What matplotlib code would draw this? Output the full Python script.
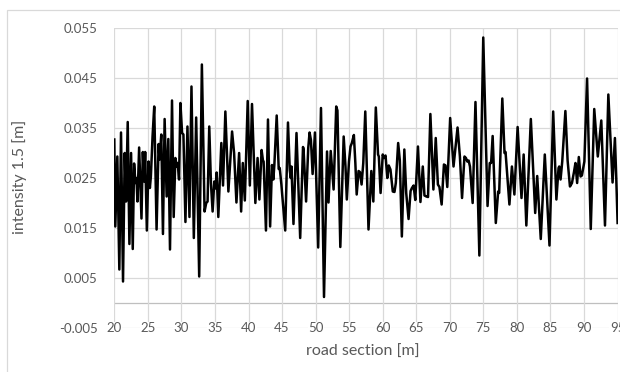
import numpy as np
import matplotlib
matplotlib.use("Agg")
import matplotlib.pyplot as plt
from matplotlib.patches import Rectangle

plt.rcParams['font.family'] = ['Lato', 'DejaVu Sans']

# road section [m] / intensity 1.5 [m] (turning points)
road_m = [
    20.00, 20.15, 20.45, 20.75, 21.00, 21.30, 21.55, 21.75, 22.00, 22.25,
    22.50, 22.75, 22.95, 23.15, 23.30, 23.45, 23.70, 24.05, 24.25, 24.45,
    24.60, 24.85, 25.10, 25.30, 25.45, 25.70, 25.95, 26.30, 26.60, 26.75,
    27.00, 27.25, 27.50, 27.80, 28.05, 28.30, 28.60, 28.85, 29.10, 29.30,
    29.45, 29.65, 29.85, 30.10, 30.30, 30.60, 30.90, 31.20, 31.50, 31.85,
    32.20, 32.65, 33.05, 33.45, 33.70, 33.90, 34.15, 34.40, 34.65, 34.90,
    35.10, 35.25, 35.50, 35.95, 36.20, 36.55, 37.00, 37.55, 37.85, 38.20,
    38.60, 38.90, 39.15, 39.45, 39.88, 40.20, 40.52, 41.02, 41.35, 41.62,
    41.95, 42.15, 42.25, 42.60, 42.90, 43.22, 43.50, 43.70, 43.85, 44.20,
    44.50, 44.65, 44.90, 45.00, 45.47, 45.88, 46.15, 46.30, 46.40, 46.70,
    47.15, 47.70, 48.12, 48.20, 48.58, 48.90, 49.10, 49.30, 49.55, 49.90,
    50.38, 50.80, 51.25, 51.70, 51.92, 52.25, 52.68, 53.07, 53.25, 53.68,
    54.18, 54.45, 54.65, 54.97, 55.20, 55.40, 55.70, 55.92, 56.12, 56.40,
    56.60, 56.85, 57.10, 57.40, 57.88, 58.30, 58.60, 58.97, 59.30, 59.42,
    59.68, 60.00, 60.20, 60.42, 60.68, 60.90, 61.15, 61.50, 61.75, 61.95,
    62.30, 62.55, 62.85, 63.22, 63.50, 63.85, 64.15, 64.35, 64.60, 64.85,
    65.25, 65.62, 65.97, 66.22, 66.50, 66.75, 67.10, 67.55, 67.90, 68.22,
    68.45, 68.78, 69.12, 69.35, 69.62, 70.05, 70.55, 71.15, 71.50, 71.82,
    72.18, 72.40, 72.60, 72.80, 73.00, 73.40, 73.82, 74.40, 74.98, 75.62,
    75.95, 76.15, 76.38, 76.85, 77.20, 77.35, 77.82, 78.15, 78.30, 78.88,
    79.25, 79.62, 80.10, 80.68, 81.00, 81.40, 82.07, 82.72, 83.02, 83.55,
    84.15, 84.85, 85.40, 85.88, 86.20, 86.30, 86.50, 86.75, 87.22, 87.55,
    87.90, 88.20, 88.50, 88.72, 88.97, 89.22, 89.48, 89.68, 90.05, 90.45,
    91.00, 91.52, 92.05, 92.57, 93.12, 93.62, 94.25, 94.60, 94.80, 95.00,
]
intensity = [
    0.0327, 0.0153, 0.0293, 0.0067, 0.0341, 0.0043, 0.0300, 0.0203, 0.0362, 0.0118,
    0.0300, 0.0108, 0.0279, 0.0240, 0.0250, 0.0203, 0.0311, 0.0169, 0.0302, 0.0243,
    0.0302, 0.0145, 0.0283, 0.0230, 0.0253, 0.0333, 0.0393, 0.0147, 0.0318, 0.0287,
    0.0337, 0.0138, 0.0368, 0.0213, 0.0328, 0.0107, 0.0405, 0.0172, 0.0290, 0.0273,
    0.0280, 0.0247, 0.0400, 0.0340, 0.0337, 0.0162, 0.0353, 0.0172, 0.0433, 0.0130,
    0.0371, 0.0053, 0.0477, 0.0183, 0.0200, 0.0203, 0.0353, 0.0240, 0.0183, 0.0243,
    0.0229, 0.0261, 0.0172, 0.0320, 0.0235, 0.0383, 0.0223, 0.0343, 0.0300, 0.0201,
    0.0300, 0.0183, 0.0280, 0.0205, 0.0404, 0.0235, 0.0398, 0.0200, 0.0290, 0.0207,
    0.0306, 0.0285, 0.0283, 0.0145, 0.0367, 0.0153, 0.0276, 0.0247, 0.0276, 0.0375,
    0.0268, 0.0270, 0.0237, 0.0220, 0.0145, 0.0361, 0.0265, 0.0250, 0.0273, 0.0158,
    0.0340, 0.0130, 0.0312, 0.0308, 0.0203, 0.0310, 0.0341, 0.0326, 0.0258, 0.0341,
    0.0111, 0.0390, 0.0012, 0.0303, 0.0201, 0.0304, 0.0227, 0.0393, 0.0385, 0.0112,
    0.0333, 0.0273, 0.0207, 0.0283, 0.0313, 0.0320, 0.0336, 0.0280, 0.0217, 0.0264,
    0.0262, 0.0237, 0.0280, 0.0383, 0.0147, 0.0264, 0.0203, 0.0391, 0.0297, 0.0293,
    0.0220, 0.0297, 0.0290, 0.0295, 0.0250, 0.0275, 0.0267, 0.0223, 0.0222, 0.0240,
    0.0320, 0.0285, 0.0133, 0.0307, 0.0220, 0.0168, 0.0224, 0.0230, 0.0235, 0.0206,
    0.0313, 0.0202, 0.0273, 0.0215, 0.0213, 0.0212, 0.0378, 0.0227, 0.0330, 0.0237,
    0.0232, 0.0197, 0.0277, 0.0275, 0.0232, 0.0370, 0.0273, 0.0351, 0.0293, 0.0210,
    0.0293, 0.0290, 0.0283, 0.0285, 0.0273, 0.0200, 0.0402, 0.0095, 0.0531, 0.0194,
    0.0280, 0.0280, 0.0334, 0.0160, 0.0223, 0.0220, 0.0409, 0.0300, 0.0302, 0.0197,
    0.0273, 0.0217, 0.0352, 0.0210, 0.0297, 0.0155, 0.0368, 0.0180, 0.0254, 0.0128,
    0.0297, 0.0115, 0.0383, 0.0207, 0.0270, 0.0273, 0.0247, 0.0283, 0.0384, 0.0285,
    0.0233, 0.0240, 0.0262, 0.0280, 0.0240, 0.0292, 0.0253, 0.0255, 0.0283, 0.0449,
    0.0148, 0.0388, 0.0293, 0.0365, 0.0155, 0.0417, 0.0241, 0.0330, 0.0250, 0.0160,
]

x_ticks = list(range(20, 96, 5))
y_ticks = [-0.005, 0.005, 0.015, 0.025, 0.035, 0.045, 0.055]

W, H = 620, 372
fig = plt.figure(figsize=(W / 100, H / 100), dpi=100)
ax = fig.add_axes([114.3 / W, 1 - 328 / H, (617.6 - 114.3) / W, 300 / H])

ax.plot(road_m, intensity, color='black', lw=1.8, solid_joinstyle='round', zorder=3)

ax.set_xlim(20, 95)
ax.set_ylim(-0.005, 0.055)
ax.set_xticks(x_ticks)
ax.set_yticks(y_ticks)
ax.set_yticklabels([f"{v:.3f}" for v in y_ticks])
ax.set_xticklabels([])
ax.grid(True, color='#d9d9d9', lw=0.9)
ax.axhline(0, color='#bfbfbf', lw=0.9, zorder=1)
for s in ax.spines.values():
    s.set_visible(False)
ax.tick_params(length=0, labelsize=9.5, labelcolor='#595959')
ax.tick_params(axis='y', pad=12)

# x tick labels sit on the bottom gridline, like the original chart
for x in x_ticks:
    ax.text(x, -0.005, str(x), ha='center', va='center', fontsize=9.5,
            color='#595959', clip_on=False, zorder=4,
            bbox=dict(fc='white', ec='none', pad=0.3))

fig.text(20 / W, 1 - 177 / H, "intensity 1.5 [m]", rotation=90,
         ha='center', va='center', fontsize=11.5, color='#595959')
fig.text(363 / W, 1 - 352 / H, "road section [m]",
         ha='center', va='center', fontsize=11.5, color='#595959')

# outer chart frame
fig.patches.append(Rectangle((7 / W, -0.1), 2, 1.1 - 10 / H, transform=fig.transFigure,
                             fill=False, ec='#d9d9d9', lw=0.9))

fig.savefig("out.png", dpi=100)
